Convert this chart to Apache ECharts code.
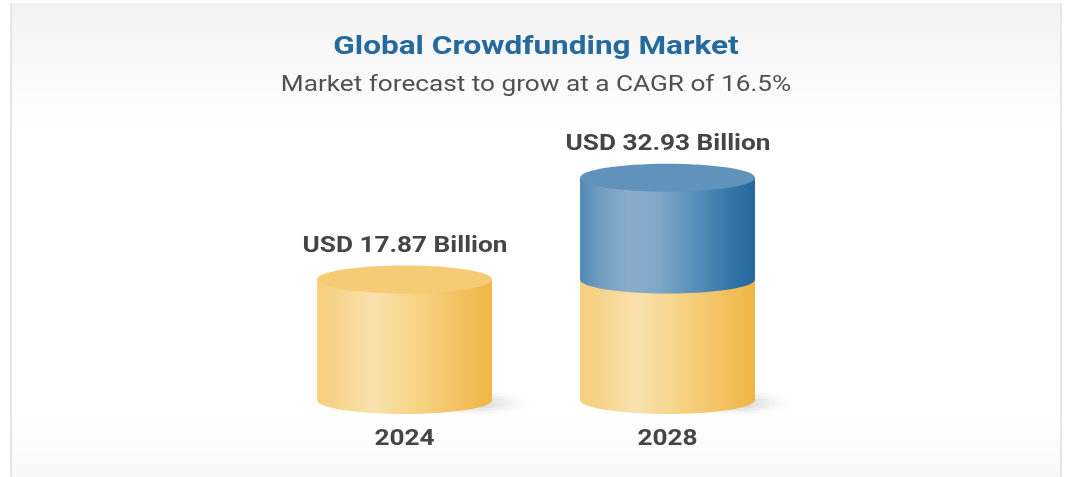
<!DOCTYPE html>
<html>
<head>
<meta charset="utf-8">
<style>html,body{margin:0;padding:0;background:#fff}#c{width:1076px;height:477px}</style>
<script src="https://cdn.jsdelivr.net/npm/echarts@6/dist/echarts.min.js"></script>
</head>
<body>
<div id="c"></div>
<script>
var titleText = 'Global Crowdfunding Market';
var subtitleText = 'Market forecast to grow at a CAGR of 16.5%';
var categories = ['2024', '2028'];
var baseValues = [17.87, 17.87];
var totalValues = [17.87, 32.93];
var totalLabels = ['USD 17.87 Billion', 'USD 32.93 Billion'];

var RY = 14;
var STRETCH = 1.19;
function grad(stops) {
  return new echarts.graphic.LinearGradient(0, 0, 1, 0, stops.map(function (s) { return { offset: s[0], color: s[1] }; }));
}
var yellowGrad = [[0, '#f6cf7d'], [0.12, '#f7d48c'], [0.32, '#f9e1af'], [0.55, '#f6d587'], [0.8, '#f3c263'], [1, '#efb743']];
var blueGrad = [[0, '#5088b5'], [0.12, '#739fc2'], [0.28, '#8badcb'], [0.45, '#7fa7c7'], [0.62, '#5f94bd'], [0.85, '#3677a9'], [1, '#22669e']];

function shadowPart(x, y, rx, ry, a) {
  return {
    type: 'ellipse', shape: { cx: x, cy: y, rx: rx, ry: ry },
    style: { fill: new echarts.graphic.LinearGradient(0, 0, 1, 0, [
      { offset: 0.5, color: 'rgba(120,125,135,' + a + ')' }, { offset: 1, color: 'rgba(160,165,175,0)' }]) }
  };
}

function cylinder(body, top, withShadow) {
  return function (params, api) {
    var c = api.value(0);
    var p0 = api.coord([c, api.value(1)]);
    var p1 = api.coord([c, api.value(2)]);
    var w = api.size([1, 0])[0] * 0.665;
    var rx = w / 2;
    var kids = [];
    if (api.value(2) <= api.value(1)) return { type: 'group', children: [] };
    if (withShadow) {
      kids.push(shadowPart(p0[0] + rx - 10, p0[1] + 3, 52, 11, 0.07));
      kids.push(shadowPart(p0[0] + rx - 10, p0[1] + 3, 46, 8, 0.1));
      kids.push(shadowPart(p0[0] + rx - 10, p0[1] + 3, 40, 5, 0.13));
    }
    kids.push({ type: 'ellipse', shape: { cx: p0[0], cy: p0[1], rx: rx, ry: RY }, style: { fill: grad(body) } });
    kids.push({ type: 'rect', shape: { x: p0[0] - rx, y: p1[1], width: w, height: p0[1] - p1[1] }, style: { fill: grad(body) } });
    kids.push({ type: 'ellipse', shape: { cx: p1[0], cy: p1[1], rx: rx, ry: RY }, style: { fill: top } });
    return { type: 'group', children: kids };
  };
}

function wideText(text, x, y, size, weight, color, z) {
  var el = {
    type: 'text', x: x, y: y, scaleX: STRETCH,
    style: { text: text, x: 0, y: 0, align: 'center', verticalAlign: 'middle',
      fontFamily: 'Roboto', fontSize: size, fontWeight: weight, fill: color }
  };
  if (z != null) el.z = z;
  return el;
}

function labels(params, api) {
  var i = api.value(0);
  var top = api.coord([i, api.value(1)]);
  var bottom = api.coord([i, 0]);
  return { type: 'group', children: [
    wideText(totalLabels[i], top[0] + 0.5, top[1] - 33, 22, 'bold', '#454545'),
    wideText(categories[i], bottom[0], bottom[1] + 39, 22, 'bold', '#454545')
  ] };
}

var chart = echarts.init(document.getElementById('c'), null, { renderer: 'canvas' });
chart.setOption({
  animation: false,
  backgroundColor: '#ffffff',
  graphic: [
    { type: 'rect', z: -10, shape: { x: 11, y: 3, width: 1050, height: 127 },
      style: { fill: new echarts.graphic.LinearGradient(0, 0, 0, 1, [{ offset: 0, color: '#f2f2f2' }, { offset: 1, color: '#ffffff' }]) } },
    { type: 'rect', z: -10, shape: { x: 11, y: 415, width: 1050, height: 62 },
      style: { fill: new echarts.graphic.LinearGradient(0, 0, 0, 1, [{ offset: 0, color: '#ffffff' }, { offset: 1, color: '#f8f8f8' }]) } },
    { type: 'rect', z: -9, shape: { x: 10, y: 3, width: 2, height: 474 }, style: { fill: '#e6e6e6' } },
    { type: 'rect', z: -9, shape: { x: 1060, y: 3, width: 2, height: 474 }, style: { fill: '#e6e6e6' } },
    wideText(titleText, 536, 47.5, 26.5, 'bold', '#256a9f', 10),
    wideText(subtitleText, 536, 85, 22, 'normal', '#505050', 10)
  ],
  grid: { left: 273, width: 526, top: 130, height: 270 },
  xAxis: {
    type: 'category', data: categories,
    axisLine: { show: false }, axisTick: { show: false }, axisLabel: { show: false }
  },
  yAxis: { type: 'value', min: 0, max: 40, show: false, splitLine: { show: false } },
  series: [
    {
      type: 'custom', z: 2, clip: false,
      renderItem: cylinder(yellowGrad, '#f5cb75', true),
      encode: { x: 0, y: 2 },
      data: categories.map(function (c, i) { return [i, 0, baseValues[i]]; })
    },
    {
      type: 'custom', z: 3, clip: false,
      renderItem: cylinder(blueGrad, '#6092bb', false),
      encode: { x: 0, y: 2 },
      data: categories.map(function (c, i) { return [i, baseValues[i], totalValues[i]]; })
    },
    {
      type: 'custom', z: 4, clip: false, silent: true,
      renderItem: labels,
      encode: { x: 0, y: 1 },
      data: categories.map(function (c, i) { return [i, totalValues[i]]; })
    }
  ]
});
</script>
</body>
</html>
